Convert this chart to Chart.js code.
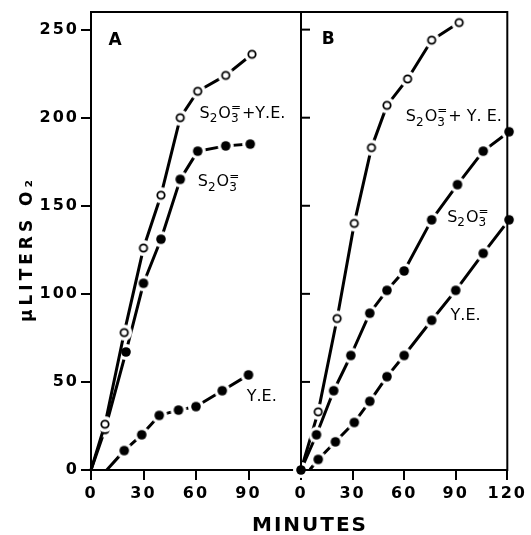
<!DOCTYPE html>
<html>
<head>
<meta charset="utf-8">
<script src="https://cdn.jsdelivr.net/npm/chart.js@4.4.0/dist/chart.umd.min.js"></script>
<style>
  html, body { margin: 0; padding: 0; background: #fff; }
  #wrap { position: relative; width: 531px; height: 535px; }
  canvas { position: absolute; left: 0; top: 0; }
</style>
</head>
<body>
<div id="wrap">
  <canvas id="panelA" width="531" height="535"></canvas>
  <canvas id="panelB" width="531" height="535"></canvas>
</div>
<script>
// tick values
const xTicks = [0, 30, 60, 90, 120];
const yTicks = [0, 50, 100, 150, 200, 250];

// panel A (minutes, µl O2)
const tA_thioYe = [0, 8, 19, 30, 40, 51, 61, 77, 92];
const vA_thioYe = [0, 26, 78, 126, 156, 200, 215, 224, 236];
const tA_thio = [0, 8, 20, 30, 40, 51, 61, 77, 91];
const vA_thio = [0, 23, 67, 106, 131, 165, 181, 184, 185];
const tA_ye = [9, 19, 29, 39, 50, 60, 75, 90];
const vA_ye = [0, 11, 20, 31, 34, 36, 45, 54];

// panel B
const tB_thioYe = [0, 10, 21, 31, 41, 50, 62, 76, 92];
const vB_thioYe = [0, 33, 86, 140, 183, 207, 222, 244, 254];
const tB_thio = [0, 9, 19, 29, 40, 50, 60, 76, 91, 106, 121];
const vB_thio = [0, 20, 45, 65, 89, 102, 113, 142, 162, 181, 192];
const tB_ye = [5, 10, 20, 31, 40, 50, 60, 76, 90, 106, 121];
const vB_ye = [0, 6, 16, 27, 39, 53, 65, 85, 102, 123, 142];

const FONT = 'DejaVu Sans';

// markers with a white halo so the line stops short of each point
function makeMarker(filled) {
  const c = document.createElement('canvas');
  c.width = 20; c.height = 20;
  const g = c.getContext('2d');
  g.fillStyle = '#fff';
  g.beginPath(); g.arc(10, 10, 8, 0, Math.PI * 2); g.fill();
  g.beginPath();
  if (filled) {
    g.arc(10, 10, 4.8, 0, Math.PI * 2);
    g.fillStyle = '#000'; g.fill();
  } else {
    g.arc(10, 10, 3.7, 0, Math.PI * 2);
    g.lineWidth = 1.8; g.strokeStyle = '#000'; g.stroke();
  }
  return c;
}
const openDot = makeMarker(false);
const solidDot = makeMarker(true);

function series(t, v, marker, skipFirst) {
  const r = c => (skipFirst && c.dataIndex === 0) ? 0 : 5;
  return {
    data: t.map((x, i) => ({ x: x, y: v[i] })),
    showLine: true,
    borderColor: '#000',
    borderWidth: 3,
    borderJoinStyle: 'round',
    pointStyle: marker,
    pointRadius: r,
    pointHoverRadius: r,
    clip: false
  };
}

const spacing = {
  id: 'spacing',
  beforeUpdate(chart) { chart.ctx.letterSpacing = '2px'; },
  beforeDraw(chart) { chart.ctx.letterSpacing = '2px'; }
};

const frame = {
  id: 'frame',
  afterDraw(chart) {
    const a = chart.chartArea, ctx = chart.ctx;
    ctx.save();
    ctx.strokeStyle = '#000';
    ctx.lineWidth = 2;
    ctx.strokeRect(a.left, a.top, a.right - a.left, a.bottom - a.top);
    ctx.restore();
  }
};

// '_x' = subscript char, '^x' = superscript stacked over the last subscript
function drawChem(ctx, str, x, y, size) {
  let cx = x, subX = null;
  const big = size + 'px ' + FONT, small = Math.round(size * 0.78) + 'px ' + FONT;
  for (let i = 0; i < str.length; i++) {
    const ch = str[i];
    if (ch === '_') {
      const s = str[++i];
      ctx.font = small;
      ctx.fillText(s, cx, y + size * 0.28);
      subX = cx;
      cx += ctx.measureText(s).width + 1;
    } else if (ch === '^') {
      const s = str[++i];
      ctx.font = small;
      const sx = subX === null ? cx : subX;
      ctx.fillText(s, sx, y - size * 0.42);
      cx = Math.max(cx, sx + ctx.measureText(s).width + 1);
    } else {
      ctx.font = big;
      ctx.fillText(ch, cx, y);
      cx += ctx.measureText(ch).width;
      subX = null;
    }
  }
}

// text placed at data coordinates
const notes = {
  id: 'notes',
  afterDraw(chart, args, opts) {
    const ctx = chart.ctx, xs = chart.scales.x, ys = chart.scales.y;
    ctx.save();
    ctx.fillStyle = '#000';
    ctx.textBaseline = 'alphabetic';
    ctx.textAlign = 'left';
    ctx.letterSpacing = '0px';
    ctx.font = 'bold 17px ' + FONT;
    ctx.fillText(opts.panel, xs.getPixelForValue(opts.panelAt[0]), ys.getPixelForValue(opts.panelAt[1]));
    for (const n of opts.items) {
      drawChem(ctx, n.text, xs.getPixelForValue(n.x), ys.getPixelForValue(n.y), 16);
    }
    if (opts.titles) {
      ctx.font = 'bold 17px ' + FONT;
      ctx.letterSpacing = '4px';
      ctx.textAlign = 'center';
      ctx.textBaseline = 'middle';
      ctx.save();
      ctx.translate(28, 249);
      ctx.rotate(-Math.PI / 2);
      ctx.fillText('\u03bcLITERS O\u2082', 0, 0);
      ctx.restore();
      ctx.font = 'bold 20px ' + FONT;
      ctx.letterSpacing = '2px';
      ctx.fillText('MINUTES', 310, 526);
    }
    ctx.restore();
  }
};

// inward ticks on panel B's left edge
const innerTicks = {
  id: 'innerTicks',
  afterDraw(chart) {
    const ctx = chart.ctx, ys = chart.scales.y, left = chart.chartArea.left;
    ctx.save();
    ctx.strokeStyle = '#000';
    ctx.lineWidth = 2;
    for (const v of yTicks.slice(1)) {
      const py = ys.getPixelForValue(v);
      ctx.beginPath(); ctx.moveTo(left, py); ctx.lineTo(left + 9, py); ctx.stroke();
    }
    ctx.restore();
  }
};

const tickFont = { family: FONT, size: 16, weight: 'bold' };

function xScale(ticks) {
  return {
    type: 'linear', min: 0, max: 120,
    afterBuildTicks: s => { s.ticks = ticks.map(v => ({ value: v })); },
    afterFit: s => { s.height = 65; },
    ticks: { font: tickFont, color: '#000', padding: 4, maxRotation: 0 },
    grid: { drawOnChartArea: false, color: '#000', lineWidth: 2, tickLength: 10 },
    border: { color: '#000', width: 2 }
  };
}

new Chart(document.getElementById('panelA'), {
  type: 'scatter',
  data: {
    datasets: [
      series(tA_thioYe, vA_thioYe, openDot, true),
      series(tA_thio, vA_thio, solidDot, true),
      series(tA_ye, vA_ye, solidDot, true)
    ]
  },
  options: {
    responsive: false,
    animation: false,
    layout: { padding: { left: 0, top: 12, right: 230, bottom: 0 } },
    scales: {
      x: xScale(xTicks.filter(v => v <= 90)),
      y: {
        min: 0, max: 260,
        afterBuildTicks: s => { s.ticks = yTicks.map(v => ({ value: v })); },
        afterFit: s => { s.width = 91; },
        ticks: { font: tickFont, color: '#000', padding: 2 },
        grid: { drawOnChartArea: false, color: '#000', lineWidth: 2, tickLength: 10 },
        border: { color: '#000', width: 2 }
      }
    },
    plugins: {
      legend: { display: false },
      tooltip: { enabled: false },
      notes: {
        titles: true,
        panel: 'A', panelAt: [10, 241],
        items: [
          { text: 'S_2O_3^=+Y.E.', x: 62, y: 200 },
          { text: 'S_2O_3^=', x: 61, y: 161 },
          { text: 'Y.E.', x: 89, y: 39 }
        ]
      }
    }
  },
  plugins: [spacing, frame, notes]
});

new Chart(document.getElementById('panelB'), {
  type: 'scatter',
  data: {
    datasets: [
      series(tB_thio, vB_thio, solidDot, false),
      series(tB_thioYe, vB_thioYe, openDot, true),
      series(tB_ye, vB_ye, solidDot, true)
    ]
  },
  options: {
    responsive: false,
    animation: false,
    layout: { padding: { left: 301, top: 12, right: 18, bottom: 0 } },
    scales: {
      x: xScale(xTicks),
      y: {
        min: 0, max: 260,
        afterFit: s => { s.width = 0; },
        ticks: { display: false },
        grid: { display: false },
        border: { color: '#000', width: 2 }
      }
    },
    plugins: {
      legend: { display: false },
      tooltip: { enabled: false },
      notes: {
        panel: 'B', panelAt: [12, 242],
        items: [
          { text: 'S_2O_3^=+ Y. E.', x: 61, y: 198 },
          { text: 'S_2O_3^=', x: 85, y: 141 },
          { text: 'Y.E.', x: 87, y: 85 }
        ]
      }
    }
  },
  plugins: [spacing, frame, innerTicks, notes]
});
</script>
</body>
</html>
